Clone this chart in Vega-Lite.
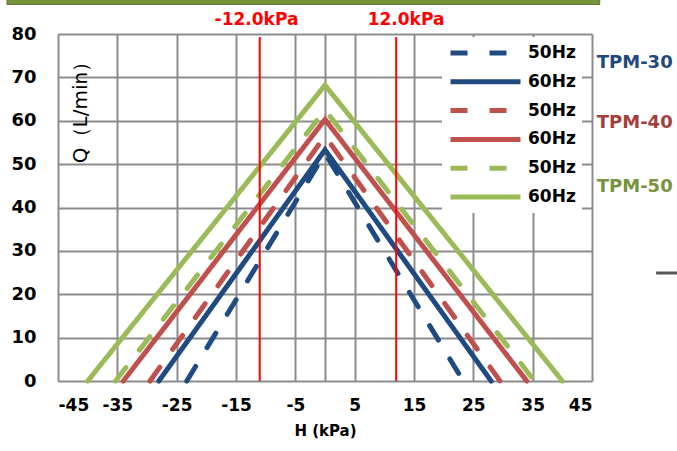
{
  "$schema": "https://vega.github.io/schema/vega-lite/v6.json",
  "autosize": {"type": "none"},
  "width": 534,
  "height": 347,
  "padding": {"left": 58, "top": 34, "right": 85, "bottom": 70},
  "background": "white",
  "config": {
    "view": {"stroke": null},
    "font": "DejaVu Sans"
  },
  "datasets": {
    "curves": [
      {"series": "TPM-30 50Hz", "h": -23.3, "q": 0},
      {"series": "TPM-30 50Hz", "h": 0, "q": 52.5},
      {"series": "TPM-30 50Hz", "h": 23.3, "q": 0},
      {"series": "TPM-30 60Hz", "h": -28, "q": 0},
      {"series": "TPM-30 60Hz", "h": 0, "q": 53.3},
      {"series": "TPM-30 60Hz", "h": 28, "q": 0},
      {"series": "TPM-40 50Hz", "h": -29.5, "q": 0},
      {"series": "TPM-40 50Hz", "h": 0, "q": 56.5},
      {"series": "TPM-40 50Hz", "h": 29.5, "q": 0},
      {"series": "TPM-40 60Hz", "h": -34, "q": 0},
      {"series": "TPM-40 60Hz", "h": 0, "q": 60.3},
      {"series": "TPM-40 60Hz", "h": 34, "q": 0},
      {"series": "TPM-50 50Hz", "h": -35.3, "q": 0},
      {"series": "TPM-50 50Hz", "h": 0, "q": 62.5},
      {"series": "TPM-50 50Hz", "h": 35.3, "q": 0},
      {"series": "TPM-50 60Hz", "h": -40, "q": 0},
      {"series": "TPM-50 60Hz", "h": 0, "q": 68.2},
      {"series": "TPM-50 60Hz", "h": 40, "q": 0}
    ],
    "limits": [
      {"h": -11, "q": 0, "q2": 79.3},
      {"h": 12, "q": 0, "q2": 79.3}
    ],
    "limitLabels": [
      {"h": -11.55, "q": 83.2, "text": "-12.0kPa"},
      {"h": 13.65, "q": 83.2, "text": "12.0kPa"}
    ],
    "models": [
      {"h": 52.2, "q": 73.3, "text": "TPM-30"},
      {"h": 52.2, "q": 59.4, "text": "TPM-40"},
      {"h": 52.2, "q": 44.7, "text": "TPM-50"}
    ],
    "banner": [
      {"h": -53.6, "h2": 46.3, "q": 86.8, "q2": 90}
    ],
    "stub": [
      {"h": 55.8, "h2": 59.5, "q": 24.9}
    ]
  },
  "layer": [
    {
      "data": {"name": "curves"},
      "mark": {"type": "line", "strokeWidth": 5, "strokeCap": "round", "clip": false},
      "encoding": {
        "x": {
          "field": "h", "type": "quantitative",
          "scale": {"domain": [-45, 45], "nice": false, "zero": false},
          "axis": {
            "values": [-45, -35, -25, -15, -5, 0, 5, 15, 25, 35, 45],
            "labelExpr": "datum.value == 0 ? '' : replace(datum.label, '−', '-')",
            "title": "H (kPa)",
            "grid": true, "gridColor": "#8c8c8c", "gridWidth": 2,
            "ticks": false, "domain": false,
            "labelPadding": 16, "labelFontSize": 17, "labelFontWeight": "bold", "labelColor": "black",
            "labelFont": "DejaVu Sans",
            "titleFontSize": 15, "titleFontWeight": "bold", "titleColor": "black", "titlePadding": 10,
            "titleFont": "DejaVu Sans"
          }
        },
        "y": {
          "field": "q", "type": "quantitative",
          "scale": {"domain": [0, 80], "nice": false},
          "axis": {
            "values": [0, 10, 20, 30, 40, 50, 60, 70, 80],
            "title": "Q（L/min）",
            "grid": true, "gridColor": "#8c8c8c", "gridWidth": 2,
            "ticks": false, "domain": false,
            "labelPadding": 22, "labelFontSize": 18, "labelFontWeight": "bold", "labelColor": "black",
            "labelFont": "DejaVu Sans",
            "titleFontSize": 20, "titleFontWeight": 500, "titleColor": "black",
            "titleFont": "DejaVu Sans",
            "titleAngle": 270, "titleX": 22, "titleY": 73, "titleAlign": "center", "titleBaseline": "middle"
          }
        },
        "color": {
          "field": "series", "type": "nominal",
          "scale": {
            "domain": ["TPM-30 50Hz", "TPM-30 60Hz", "TPM-40 50Hz", "TPM-40 60Hz", "TPM-50 50Hz", "TPM-50 60Hz"],
            "range": ["#1F4A82", "#1F4A82", "#C0504D", "#C0504D", "#9BBB59", "#9BBB59"]
          },
          "legend": {
            "orient": "none", "legendX": 384, "legendY": 3,
            "title": null,
            "symbolType": "stroke", "symbolSize": 4900, "symbolStrokeWidth": 5,
            "clipHeight": 20,
            "labelFontSize": 17, "labelFontWeight": "bold", "labelFont": "DejaVu Sans", "labelColor": "black",
            "labelExpr": "split(datum.label, ' ')[1]",
            "labelOffset": 5,
            "fillColor": "white", "padding": 6, "rowPadding": 8.8,
            "symbolLimit": 10
          }
        },
        "strokeDash": {
          "field": "series", "type": "nominal",
          "scale": {
            "domain": ["TPM-30 50Hz", "TPM-30 60Hz", "TPM-40 50Hz", "TPM-40 60Hz", "TPM-50 50Hz", "TPM-50 60Hz"],
            "range": [[17, 22], [1, 0], [17, 22], [1, 0], [17, 22], [1, 0]]
          }
        }
      }
    },
    {
      "data": {"name": "limits"},
      "mark": {"type": "rule", "color": "#FF0000", "strokeWidth": 2},
      "encoding": {
        "x": {"field": "h", "type": "quantitative"},
        "y": {"field": "q", "type": "quantitative"},
        "y2": {"field": "q2"}
      }
    },
    {
      "data": {"name": "limitLabels"},
      "mark": {"type": "text", "color": "#FF0000", "fontSize": 17, "fontWeight": "bold", "font": "DejaVu Sans", "align": "center", "baseline": "middle"},
      "encoding": {
        "x": {"field": "h", "type": "quantitative"},
        "y": {"field": "q", "type": "quantitative"},
        "text": {"field": "text"}
      }
    },
    {
      "data": {"name": "models"},
      "mark": {"type": "text", "fontSize": 18, "fontWeight": "bold", "font": "DejaVu Sans", "align": "center", "baseline": "middle"},
      "encoding": {
        "x": {"field": "h", "type": "quantitative"},
        "y": {"field": "q", "type": "quantitative"},
        "text": {"field": "text"},
        "fill": {
          "field": "text", "type": "nominal",
          "scale": {"domain": ["TPM-30", "TPM-40", "TPM-50"], "range": ["#1F497D", "#A43F3C", "#77933C"]},
          "legend": null
        }
      }
    },
    {
      "data": {"name": "banner"},
      "mark": {"type": "rect", "fill": "#77933C", "stroke": "#5E7A2E", "strokeWidth": 1},
      "encoding": {
        "x": {"field": "h", "type": "quantitative"},
        "x2": {"field": "h2"},
        "y": {"field": "q", "type": "quantitative"},
        "y2": {"field": "q2"}
      }
    },
    {
      "data": {"name": "stub"},
      "mark": {"type": "rule", "color": "#555555", "strokeWidth": 3},
      "encoding": {
        "x": {"field": "h", "type": "quantitative"},
        "x2": {"field": "h2"},
        "y": {"field": "q", "type": "quantitative"}
      }
    }
  ]
}
